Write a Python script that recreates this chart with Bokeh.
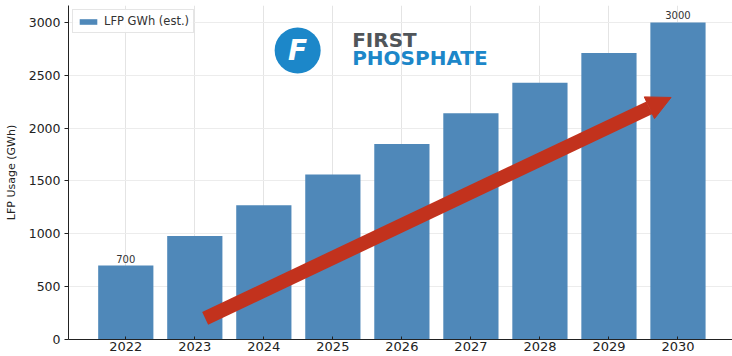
from bokeh.plotting import figure
from bokeh.models import Range1d, FixedTicker, ColumnDataSource, Arrow, NormalHead, Label, Legend, LegendItem
from bokeh.core.properties import value
from bokeh.embed import file_html
from bokeh.resources import INLINE

years = ["2022", "2023", "2024", "2025", "2026", "2027", "2028", "2029", "2030"]
lfp_gwh = [700, 980, 1270, 1560, 1850, 2140, 2430, 2710, 3000]
labeled_years = ["2022", "2030"]
y_ticks = [0, 500, 1000, 1500, 2000, 2500, 3000]
series_name = "LFP GWh (est.)"
y_title = "LFP Usage (GWh)"
# trend arrow endpoints (category index, GWh)
arrow_start = (1.15, 200)
arrow_end = (7.9, 2290)

BLUE = "#4f88b9"
RED = "#c2321d"
idx = list(range(len(years)))

src = ColumnDataSource(dict(x=idx, top=lfp_gwh, year=years))
lab_idx = [years.index(y) for y in labeled_years]
lab_src = ColumnDataSource(dict(x=lab_idx, y=[lfp_gwh[i] for i in lab_idx],
                                t=[str(lfp_gwh[i]) for i in lab_idx]))

p = figure(width=732, height=356, output_backend="svg", toolbar_location=None,
           x_range=Range1d(-0.83, 8.79), y_range=Range1d(0, 3160),
           min_border_left=68, min_border_right=0, min_border_top=5, min_border_bottom=17)
p.outline_line_color = None
p.background_fill_color = "white"
p.border_fill_color = "white"

r = p.vbar(x="x", top="top", width=0.8, source=src, fill_color=BLUE, line_color=None)

p.xaxis.ticker = FixedTicker(ticks=idx)
p.xaxis.major_label_overrides = {i: y for i, y in zip(idx, years)}
p.yaxis.ticker = FixedTicker(ticks=y_ticks)
p.yaxis.axis_label = y_title
p.yaxis.axis_label_text_font_style = "normal"
p.yaxis.axis_label_text_font_size = "11px"
p.yaxis.axis_label_text_font = "DejaVu Sans"
p.yaxis.axis_label_text_color = "#222222"
p.yaxis.axis_label_standoff = 8
for ax in (p.xaxis, p.yaxis):
    ax.major_label_text_font = "DejaVu Sans"
    ax.major_label_text_color = "#222222"
    ax.axis_line_color = "#222222"
    ax.major_tick_line_color = "#222222"
    ax.minor_tick_line_color = None
p.xaxis.major_label_text_font_size = "13px"
p.yaxis.major_label_text_font_size = "12.5px"
p.xaxis.major_tick_out = 0
p.xaxis.major_tick_in = 3
p.xaxis.major_label_standoff = 2
p.yaxis.major_tick_out = 4
p.yaxis.major_tick_in = 0
p.yaxis.major_label_standoff = 4

p.xgrid.grid_line_color = "#e4e4e4"
p.ygrid.grid_line_color = "#ececec"
p.xgrid.ticker = FixedTicker(ticks=idx)

p.text(x="x", y="y", text="t", source=lab_src, text_align="center", text_baseline="bottom",
       y_offset=-3, text_font_size="10px", text_color="#333333", text_font=value("DejaVu Sans"))

p.add_layout(Arrow(x_start=arrow_start[0], y_start=arrow_start[1], x_end=arrow_end[0], y_end=arrow_end[1],
                   line_color=RED, line_width=14, line_cap="butt",
                   end=NormalHead(size=24, fill_color=RED, line_color=RED)))

# logo
p.scatter(x=[2.49], y=[2735], size=46, marker="circle", fill_color="#1c87c9", line_color=None)
p.text(x=[2.49], y=[2735], text=["F"], text_align="center", text_baseline="middle",
       text_font_size="28px", text_font_style="bold italic", text_color="white",
       text_font=value("DejaVu Sans"))
p.add_layout(Label(x=3.28, y=2830, text="FIRST", text_font_size="20px", text_font_style="bold",
                   text_color="#505559", text_baseline="middle", text_font="DejaVu Sans"))
p.add_layout(Label(x=3.28, y=2668, text="PHOSPHATE", text_font_size="20px", text_font_style="bold",
                   text_color="#1c87c9", text_baseline="middle", text_font="DejaVu Sans"))

legend = Legend(items=[LegendItem(label=series_name, renderers=[r])], location="top_left")
legend.label_text_font_size = "11.5px"
legend.label_text_font = "DejaVu Sans"
legend.label_text_color = "#333333"
legend.glyph_width = 22
legend.glyph_height = 7
legend.label_height = 10
legend.padding = 4
legend.margin = 4
legend.spacing = 0
legend.border_line_color = "#cccccc"
legend.background_fill_alpha = 0.9
p.add_layout(legend)

open("out.html", "w").write(file_html(p, INLINE))
